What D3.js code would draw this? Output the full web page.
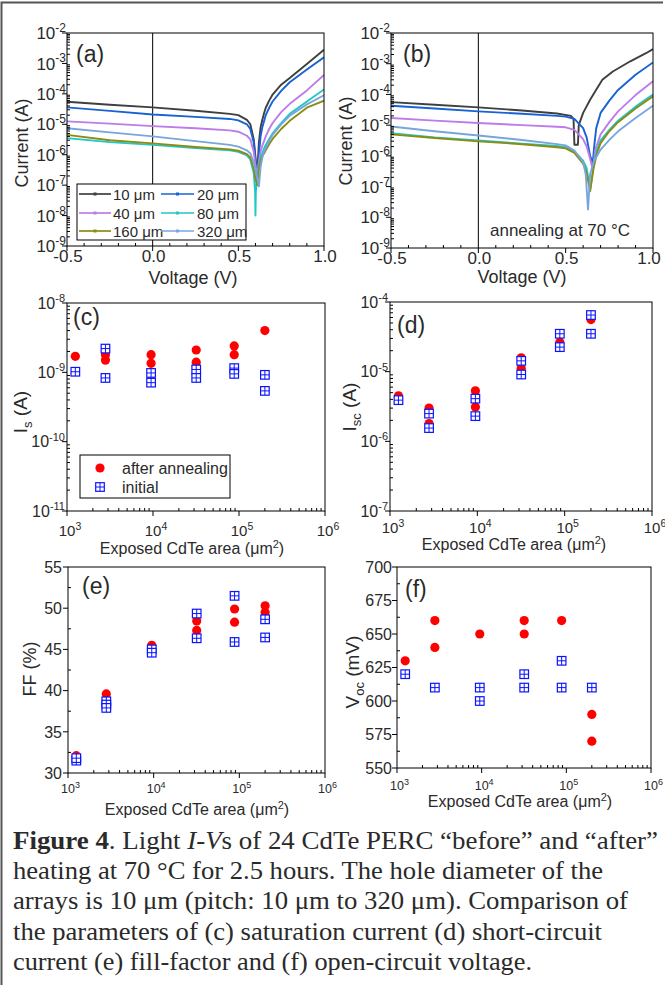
<!DOCTYPE html>
<html><head><meta charset="utf-8">
<script src="https://cdn.jsdelivr.net/npm/d3@7"></script>
<style>
body{margin:0;background:#fff}
svg{display:block}
text{font-family:"Liberation Sans",Arial,sans-serif;fill:#2a2a2a}
</style>
</head><body>
<svg id="fig" width="665" height="985"></svg>
<script>
// ---------------- DATA ----------------
const IV_LABELS = ["10 μm","20 μm","40 μm","80 μm","160 μm","320 μm"];
const IV_COLORS = ["#3f3f3f","#1763d4","#bd7ce9","#1fc7c7","#8c8c12","#78a6dc"];
const V_TICKS = [-0.5, 0.0, 0.5, 1.0];
const V_TICK_LABELS = ["-0.5","0.0","0.5","1.0"];

// panel (a): initial light I-V, [voltage V, |current| A]
const a10  = [[-0.5,5.5e-5],[-0.25,4.4e-5],[0,3.6e-5],[0.25,2.8e-5],[0.45,2.2e-5],[0.5,2.0e-5],[0.55,1.4e-5],[0.57,1.0e-5],[0.59,3.2e-6],[0.6,8.5e-7],[0.61,2.0e-7],[0.62,2.5e-6],[0.63,8.0e-6],[0.64,1.4e-5],[0.65,2.3e-5],[0.66,3.5e-5],[0.68,6.0e-5],[0.7,9.5e-5],[0.75,2.0e-4],[0.8,3.3e-4],[0.9,9.5e-4],[1.0,2.8e-3]];
const a20  = [[-0.5,3.6e-5],[-0.25,2.75e-5],[0,2.1e-5],[0.25,1.75e-5],[0.45,1.5e-5],[0.5,1.35e-5],[0.55,1.0e-5],[0.57,7e-6],[0.59,2.5e-6],[0.6,6.3e-7],[0.61,1.0e-7],[0.62,1.0e-6],[0.63,4e-6],[0.64,8e-6],[0.65,1.25e-5],[0.66,2e-5],[0.68,3.5e-5],[0.7,5.6e-5],[0.75,1.25e-4],[0.8,2.4e-4],[0.9,6.3e-4],[1.0,1.6e-3]];
const a40  = [[-0.5,1.25e-5],[-0.25,1.05e-5],[0,8.7e-6],[0.25,7.4e-6],[0.45,6.3e-6],[0.5,5.7e-6],[0.55,4.2e-6],[0.57,3.2e-6],[0.59,1.25e-6],[0.6,4.5e-7],[0.61,2e-7],[0.62,6.3e-7],[0.63,1.25e-6],[0.64,2e-6],[0.65,2.8e-6],[0.66,4e-6],[0.68,7e-6],[0.7,1.1e-5],[0.75,2.5e-5],[0.8,4.7e-5],[0.9,1.3e-4],[1.0,4.2e-4]];
const a80  = [[-0.5,3.5e-6],[-0.25,2.6e-6],[0,2.1e-6],[0.25,1.65e-6],[0.45,1.4e-6],[0.5,1.25e-6],[0.55,9.5e-7],[0.57,7e-7],[0.59,2.5e-7],[0.598,6e-8],[0.6,1e-8],[0.602,6e-8],[0.61,1.6e-7],[0.62,4.5e-7],[0.63,8e-7],[0.64,1.1e-6],[0.65,1.6e-6],[0.66,2.1e-6],[0.68,3.3e-6],[0.7,5e-6],[0.75,1.1e-5],[0.8,2.2e-5],[0.9,5.6e-5],[1.0,1.4e-4]];
const a160 = [[-0.5,4.5e-6],[-0.25,3e-6],[0,2.35e-6],[0.25,1.8e-6],[0.45,1.5e-6],[0.5,1.35e-6],[0.55,1.05e-6],[0.57,8e-7],[0.59,3.5e-7],[0.6,1.6e-7],[0.61,1e-7],[0.62,3.2e-7],[0.63,6.3e-7],[0.64,9e-7],[0.65,1.1e-6],[0.66,1.4e-6],[0.68,2.2e-6],[0.7,3.3e-6],[0.75,7e-6],[0.8,1.3e-5],[0.9,3.5e-5],[1.0,6e-5]];
const a320 = [[-0.5,7.4e-6],[-0.25,5.4e-6],[0,4e-6],[0.25,2.8e-6],[0.45,2.1e-6],[0.5,1.85e-6],[0.55,1.4e-6],[0.57,1.1e-6],[0.59,5.6e-7],[0.6,3.2e-7],[0.61,1.8e-7],[0.62,9e-8],[0.63,4e-7],[0.64,8e-7],[0.65,1.25e-6],[0.66,1.65e-6],[0.68,2.8e-6],[0.7,4.5e-6],[0.75,1e-5],[0.8,1.9e-5],[0.9,4.5e-5],[1.0,9e-5]];

// panel (b): after annealing at 70 °C
const b10  = [[-0.5,5.6e-5],[-0.25,4.6e-5],[0,3.8e-5],[0.25,3.0e-5],[0.45,2.4e-5],[0.53,2.0e-5],[0.545,1.6e-5],[0.55,2.3e-6],[0.57,2.3e-6],[0.575,1.0e-5],[0.6,2.5e-5],[0.64,6.7e-5],[0.68,1.6e-4],[0.71,3.0e-4],[0.77,5.6e-4],[0.87,1.2e-3],[0.96,2.2e-3],[1.0,3.0e-3]];
const b20  = [[-0.5,4.3e-5],[-0.25,3.5e-5],[0,2.8e-5],[0.25,2.35e-5],[0.45,2.0e-5],[0.5,1.9e-5],[0.55,1.6e-5],[0.6,8e-6],[0.62,4e-6],[0.64,1e-6],[0.655,6e-7],[0.665,2.5e-6],[0.675,8e-6],[0.7,2.5e-5],[0.75,6.3e-5],[0.8,1.4e-4],[0.9,4.4e-4],[1.0,1.1e-3]];
const b40  = [[-0.5,1.7e-5],[-0.25,1.4e-5],[0,1.17e-5],[0.25,1e-5],[0.45,8.9e-6],[0.5,8.5e-6],[0.55,7e-6],[0.6,3.5e-6],[0.62,2e-6],[0.64,8e-7],[0.655,3.5e-7],[0.67,1.6e-6],[0.7,5e-6],[0.75,1.25e-5],[0.8,2.8e-5],[0.9,9.5e-5],[1.0,2.7e-4]];
const b80  = [[-0.5,5.5e-6],[-0.25,4e-6],[0,3.2e-6],[0.25,2.5e-6],[0.45,2.1e-6],[0.5,1.9e-6],[0.55,1.4e-6],[0.6,7e-7],[0.62,4e-7],[0.64,8e-8],[0.66,5e-7],[0.68,1.6e-6],[0.7,3.2e-6],[0.75,7e-6],[0.8,1.4e-5],[0.9,4e-5],[1.0,1e-4]];
const b160 = [[-0.5,5e-6],[-0.25,3.8e-6],[0,2.95e-6],[0.25,2.4e-6],[0.45,1.9e-6],[0.5,1.75e-6],[0.55,1.25e-6],[0.6,5.6e-7],[0.62,2.8e-7],[0.64,7e-8],[0.66,4e-7],[0.68,1.25e-6],[0.7,2.6e-6],[0.75,6.3e-6],[0.8,1.25e-5],[0.9,3.5e-5],[1.0,8.7e-5]];
const b320 = [[-0.5,9e-6],[-0.25,6.3e-6],[0,4.6e-6],[0.25,3.3e-6],[0.45,2.4e-6],[0.5,2.2e-6],[0.55,1.5e-6],[0.6,6.3e-7],[0.615,2.5e-7],[0.628,1.8e-8],[0.64,2.5e-7],[0.66,6.3e-7],[0.7,1.6e-6],[0.75,3.3e-6],[0.8,6.3e-6],[0.9,1.7e-5],[1.0,4.3e-5]];

// panels (c)-(f): exposed CdTe area (μm²) and device parameters
const AREA = [1250, 2800, 9500, 31800, 88000, 200000];
const IS_AFTER  = [[1.7e-9],[1.8e-9,1.5e-9],[1.8e-9,1.35e-9],[2.1e-9,1.4e-9],[2.4e-9,1.8e-9],[4.0e-9]];
const IS_INIT   = [[1.02e-9],[2.2e-9,8.3e-10],[9.8e-10,7.1e-10],[1.1e-9,8.3e-10],[1.15e-9,9.5e-10],[9.2e-10,5.4e-10]];
const ISC_AFTER = [[4.5e-6],[3.0e-6,1.8e-6],[5.3e-6,3.1e-6],[1.58e-5,1.12e-5],[2.65e-5],[5.6e-5]];
const ISC_INIT  = [[3.9e-6],[2.5e-6,1.55e-6],[4.1e-6,2.3e-6],[1.43e-5,9.1e-6],[3.5e-5,2.25e-5],[6.5e-5,3.5e-5]];
const FF_AFTER  = [[32.1],[39.6],[45.5],[48.45,47.3],[49.9,48.3],[50.3,49.5]];
const FF_INIT   = [[31.5,31.8],[38.7,38.3,37.9],[45.0,44.6],[49.35,46.35],[51.5,45.9],[48.65,46.45]];
const VOC_AFTER = [[630],[660,640],[650],[660,650],[660],[590,570]];
const VOC_INIT  = [[620],[610],[610,600],[620,610],[630,610],[610]];
const FF_TICKS  = [30,35,40,45,50,55];
const VOC_TICKS = [550,575,600,625,650,675,700];
const SCATTER_LABELS = ["after annealing","initial"];

const CAPTION = [
  [["b","Figure 4"],["n",". Light "],["i","I-V"],["n","s of 24 CdTe PERC “before” and “after”"]],
  [["n","heating at 70 °C for 2.5 hours. The hole diameter of the"]],
  [["n","arrays is 10 μm (pitch: 10 μm to 320 μm). Comparison of"]],
  [["n","the parameters of (c) saturation current (d) short-circuit"]],
  [["n","current (e) fill-factor and (f) open-circuit voltage."]]
];
const CAPTION_WIDTHS = [645, 590, 615, 589, 519];

// ---------------- DRAWING ----------------
const svg = d3.select("#fig");
svg.append("rect").attr("width",665).attr("height",985).attr("fill","#fff");
svg.append("path").attr("d","M1.5,985V2.5H663").attr("fill","none").attr("stroke","#555").attr("stroke-width",2);

const RED = "#ff0000", BLUE = "#0a14ff";

function supText(g, x, y, base, exp, fs, sfs, anchor) {
  const t = g.append("text").attr("x",x).attr("y",y).attr("text-anchor",anchor).attr("font-size",fs);
  t.append("tspan").text(base);
  t.append("tspan").attr("dy",-fs*0.42).attr("font-size",sfs).text(exp);
  return t;
}

function frame(p) {
  svg.append("rect").attr("x",p.x0).attr("y",p.y0).attr("width",p.x1-p.x0).attr("height",p.y1-p.y0)
    .attr("fill","none").attr("stroke","#000").attr("stroke-width",1);
}
function tick(x1,y1,x2,y2) {
  svg.append("line").attr("x1",x1).attr("y1",y1).attr("x2",x2).attr("y2",y2).attr("stroke","#000").attr("stroke-width",1);
}

function logY(p, y, eLo, eHi, fs, sfs, dx) {
  for (let e=eLo; e<=eHi; e++) {
    const yy = y(Math.pow(10,e));
    tick(p.x0-5, yy, p.x0, yy);
    supText(svg, p.x0-dx, yy+fs*0.36, "10", String(e), fs, sfs, "end");
    if (e<eHi) for (let m=2;m<10;m++){ const ym=y(m*Math.pow(10,e)); tick(p.x0,ym,p.x0+3,ym); }
  }
}
function logX(p, x, eLo, eHi, fs, sfs, by) {
  for (let e=eLo; e<=eHi; e++) {
    const xx = x(Math.pow(10,e));
    tick(xx, p.y1, xx, p.y1+5);
    supText(svg, xx+fs*0.2, by, "10", String(e), fs, sfs, "middle");
    if (e<eHi) for (let m=2;m<10;m++){ const xm=x(m*Math.pow(10,e)); tick(xm,p.y1,xm,p.y1-3); }
  }
}
function linY(p, y, ticks, fs, dx, minorStep) {
  ticks.forEach(v=>{ const yy=y(v); tick(p.x0-5,yy,p.x0,yy);
    svg.append("text").attr("x",p.x0-dx).attr("y",yy+fs*0.36).attr("text-anchor","end").attr("font-size",fs).text(v); });
  const lo=ticks[0], hi=ticks[ticks.length-1];
  for (let v=lo; v<hi-1e-9; v+=minorStep) { if (ticks.some(t=>Math.abs(t-v)<1e-9)) continue; const yy=y(v); tick(p.x0,yy,p.x0+3,yy); }
}
function axisTitleX(cx, by, fs, parts) {
  const t = svg.append("text").attr("x",cx).attr("y",by).attr("text-anchor","middle").attr("font-size",fs);
  parts.forEach(([s,dy,f])=>{ const ts=t.append("tspan").text(s); if(dy) ts.attr("dy",dy); if(f) ts.attr("font-size",f); });
}
function axisTitleY(bx, cy, fs, parts) {
  const t = svg.append("text").attr("transform",`translate(${bx},${cy}) rotate(-90)`).attr("text-anchor","middle").attr("font-size",fs);
  parts.forEach(([s,dy,f])=>{ const ts=t.append("tspan").text(s); if(dy) ts.attr("dy",dy); if(f) ts.attr("font-size",f); });
}
function panelLabel(x, y, s) {
  svg.append("text").attr("x",x).attr("y",y).attr("font-size",23).attr("fill","#1a1a1a").text(s);
}

// ---- I-V panels ----
function ivPanel(p, curves, id) {
  const x = d3.scaleLinear().domain([-0.5,1.0]).range([p.x0,p.x1]);
  const y = d3.scaleLog().domain([1e-9,1e-2]).range([p.y1,p.y0]);
  svg.append("clipPath").attr("id",id).append("rect").attr("x",p.x0).attr("y",p.y0).attr("width",p.x1-p.x0).attr("height",p.y1-p.y0);
  svg.append("line").attr("x1",x(0)).attr("x2",x(0)).attr("y1",p.y0).attr("y2",p.y1).attr("stroke","#000").attr("stroke-width",1);
  const line = d3.line().x(d=>x(d[0])).y(d=>y(d[1]));
  const g = svg.append("g").attr("clip-path",`url(#${id})`);
  curves.forEach((c,i)=>{
    g.append("path").attr("d",line(c)).attr("fill","none").attr("stroke",IV_COLORS[i]).attr("stroke-width",1.9).attr("stroke-linejoin","round");
  });
  frame(p);
  logY(p, y, -9, -2, 17, 12, 1);
  V_TICKS.forEach((v,i)=>{ const xx=x(v); tick(xx,p.y1,xx,p.y1+5);
    const lx = Math.min(xx+1, 649);
    svg.append("text").attr("x",lx).attr("y",p.y1+16).attr("text-anchor","middle").attr("font-size",17).text(V_TICK_LABELS[i]); });
  for (let v=-0.4; v<1.0; v+=0.1) { if (Math.abs(v*2-Math.round(v*2))<1e-6) continue; const xx=x(v); tick(xx,p.y1,xx,p.y1-3); }
  return {x,y};
}

const pA = {x0:67,x1:324,y0:33,y1:246};
const pB = {x0:391,x1:653,y0:33,y1:248};
ivPanel(pA,[a10,a20,a40,a80,a160,a320],"clipA");
ivPanel(pB,[b10,b20,b40,b80,b160,b320],"clipB");

axisTitleY(28,143,18,[["Current (A)"]]);
axisTitleY(352,141,18,[["Current (A)"]]);
axisTitleX(193,284,18,[["Voltage (V)"]]);
axisTitleX(522,283,18,[["Voltage (V)"]]);
panelLabel(76,62,"(a)");
panelLabel(403,62,"(b)");
svg.append("text").attr("x",490).attr("y",236).attr("font-size",17).text("annealing at 70 °C");

// legend (a)
{
  svg.append("rect").attr("x",77).attr("y",184).attr("width",169).attr("height",56).attr("fill","#fff").attr("stroke","#000").attr("stroke-width",1);
  const rows=[194,213,231], cols=[[79,111,113],[161,194,197]];
  IV_LABELS.forEach((lab,i)=>{
    const r=rows[Math.floor(i/2)], c=cols[i%2];
    svg.append("line").attr("x1",c[0]).attr("x2",c[1]).attr("y1",r).attr("y2",r).attr("stroke",IV_COLORS[i]).attr("stroke-width",1.7);
    svg.append("rect").attr("x",(c[0]+c[1])/2-1.5).attr("y",r-1.5).attr("width",3).attr("height",3).attr("fill",IV_COLORS[i]);
    svg.append("text").attr("x",c[2]).attr("y",r+5.5).attr("font-size",15).text(lab);
  });
}

// ---- scatter panels ----
function redDot(g,cx,cy){ g.append("circle").attr("cx",cx).attr("cy",cy).attr("r",4.6).attr("fill",RED); }
function blueSq(g,cx,cy){
  const s=4.3;
  g.append("rect").attr("x",cx-s).attr("y",cy-s).attr("width",2*s).attr("height",2*s).attr("fill","#fff").attr("stroke",BLUE).attr("stroke-width",1.2);
  g.append("path").attr("d",`M${cx-s},${cy}H${cx+s}M${cx},${cy-s}V${cy+s}`).attr("stroke",BLUE).attr("stroke-width",1);
}
function scatter(p, y, after, init) {
  const x = d3.scaleLog().domain([1e3,1e6]).range([p.x0,p.x1]);
  const g = svg.append("g");
  after.forEach((vals,i)=>vals.forEach(v=>redDot(g,x(AREA[i]),y(v))));
  init.forEach((vals,i)=>vals.forEach(v=>blueSq(g,x(AREA[i]),y(v))));
  frame(p);
  return x;
}

const pC = {x0:67,x1:325,y0:303,y1:511};
const pD = {x0:390,x1:652,y0:302,y1:511};
const pE = {x0:68,x1:325,y0:567,y1:773};
const pF = {x0:397,x1:651,y0:567,y1:768};

const yC = d3.scaleLog().domain([1e-11,1e-8]).range([pC.y1,pC.y0]);
const xC = scatter(pC,yC,IS_AFTER,IS_INIT);
logY(pC,yC,-11,-8,16,11,2); logX(pC,xC,3,6,15,10.5,536);
const yD = d3.scaleLog().domain([1e-7,1e-4]).range([pD.y1,pD.y0]);
const xD = scatter(pD,yD,ISC_AFTER,ISC_INIT);
logY(pD,yD,-7,-4,16,11,2); logX(pD,xD,3,6,15,10.5,533);
const yE = d3.scaleLinear().domain([30,55]).range([pE.y1,pE.y0]);
const xE = scatter(pE,yE,FF_AFTER,FF_INIT);
linY(pE,yE,FF_TICKS,16,6,2.5); logX(pE,xE,3,6,12.5,9,793);
const yF = d3.scaleLinear().domain([550,700]).range([pF.y1,pF.y0]);
const xF = scatter(pF,yF,VOC_AFTER,VOC_INIT);
linY(pF,yF,VOC_TICKS,16,5,12.5); logX(pF,xF,3,6,12.5,9,790);

const areaTitle = [["Exposed CdTe area ("],["μm"],["2",-6,11],[")",6]];
axisTitleX(192,554,16,areaTitle);
axisTitleX(514,550,16,areaTitle);
axisTitleX(197,815,16,areaTitle);
axisTitleX(520,807,16,areaTitle);

axisTitleY(27,412,19,[["I"],["s",5,13],[" (A)",-5]]);
axisTitleY(356,407,19,[["I"],["sc",5,13],[" (A)",-5]]);
axisTitleY(36,669,18,[["FF (%)"]]);
axisTitleY(359,672,19,[["V"],["oc",5,13],[" (mV)",-5]]);

panelLabel(73,325,"(c)");
panelLabel(397,333,"(d)");
panelLabel(82,594,"(e)");
panelLabel(405,597,"(f)");

// legend (c)
{
  svg.append("rect").attr("x",80).attr("y",455).attr("width",150).attr("height",43).attr("fill","#fff").attr("stroke","#000").attr("stroke-width",1);
  const g = svg.append("g");
  redDot(g,100,468); blueSq(g,100,487);
  svg.append("text").attr("x",122).attr("y",474).attr("font-size",16).text(SCATTER_LABELS[0]);
  svg.append("text").attr("x",122).attr("y",493).attr("font-size",16).text(SCATTER_LABELS[1]);
}

// ---- caption ----
CAPTION.forEach((parts,i)=>{
  const t = svg.append("text").attr("x",13).attr("y",849+i*30.2).attr("font-size",25.5)
    .attr("textLength",CAPTION_WIDTHS[i]).attr("lengthAdjust","spacingAndGlyphs")
    .style("font-family","'Liberation Serif','Times New Roman',serif").attr("fill","#111");
  parts.forEach(([k,s])=>{
    const ts=t.append("tspan").text(s);
    if(k==="b") ts.attr("font-weight","bold");
    if(k==="i") ts.attr("font-style","italic");
  });
});
</script>
</body></html>
